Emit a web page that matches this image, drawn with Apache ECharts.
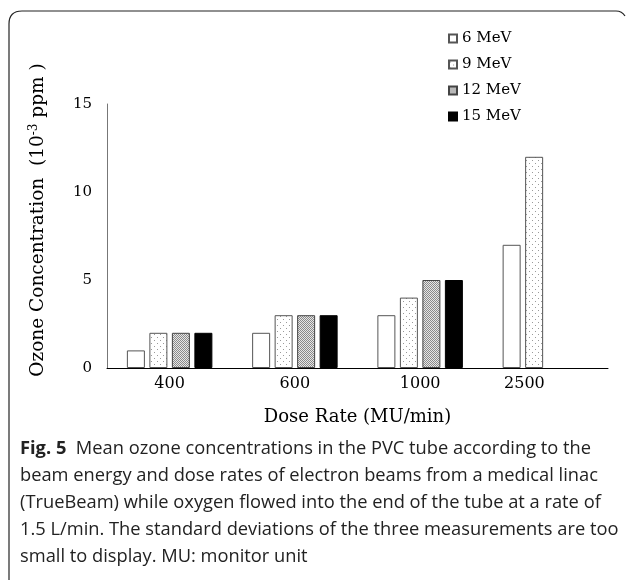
<!DOCTYPE html>
<html>
<head>
<meta charset="utf-8">
<script src="https://cdn.jsdelivr.net/npm/echarts@6/dist/echarts.min.js"></script>
<style>
  html, body { margin: 0; padding: 0; background: #fff; }
  #chart { width: 629px; height: 580px; }
</style>
</head>
<body>
<div id="chart"></div>
<script>
const doseRates = ["400", "600", "1000", "2500"];
const energyNames = ["6 MeV", "9 MeV", "12 MeV", "15 MeV"];
const mev6 = [1, 2, 3, 7];
const mev9 = [2, 3, 4, 12];
const mev12 = [2, 3, 5, null];
const mev15 = [2, 3, 5, null];
const yTicks = [0, 5, 10, 15];

const captionLines = [
  "beam energy and dose rates of electron beams from a medical linac",
  "(TrueBeam) while oxygen flowed into the end of the tube at a rate of",
  "1.5 L/min. The standard deviations of the three measurements are too",
  "small to display. MU: monitor unit",
];

const SERIF = "'DejaVu Serif', serif";
const SANS = "'Open Sans', 'Noto Sans', sans-serif";
const CAPTION_SIZE = 18.3;

function makePattern(size, bg, dots, dotColor) {
  const canvas = document.createElement("canvas");
  canvas.width = size;
  canvas.height = size;
  const ctx = canvas.getContext("2d");
  ctx.fillStyle = bg;
  ctx.fillRect(0, 0, size, size);
  ctx.fillStyle = dotColor;
  dots.forEach(([x, y]) => ctx.fillRect(x, y, 1, 1));
  return { image: canvas, repeat: "repeat" };
}

const styles = [
  { color: "#ffffff", borderColor: "#555555" },
  { color: makePattern(6, "#ffffff", [[1, 1], [4, 4]], "#9a9a9a"), borderColor: "#555555" },
  { color: makePattern(2, "#e6e6e6", [[0, 0], [1, 1]], "#8a8a8a"), borderColor: "#444444" },
  { color: "#000000", borderColor: "#000000" },
];
const seriesData = [mev6, mev9, mev12, mev15];

const frameStyle = { fill: null, stroke: "#222", lineWidth: 1.2 };

const chart = echarts.init(document.getElementById("chart"), null, { renderer: "canvas" });

chart.setOption({
  animation: false,
  backgroundColor: "#ffffff",
  grid: { left: 107, right: 21, top: 104, bottom: 212 },
  legend: {
    orient: "vertical",
    left: 443,
    top: 26,
    itemWidth: 8,
    itemHeight: 8,
    itemGap: 11,
    icon: "rect",
    data: energyNames,
    textStyle: { fontFamily: SERIF, fontSize: 15, color: "#000" },
  },
  xAxis: {
    type: "category",
    data: doseRates,
    name: "Dose Rate (MU/min)",
    nameLocation: "middle",
    nameGap: 40,
    nameTextStyle: { fontFamily: SERIF, fontSize: 18, color: "#000" },
    axisLine: { lineStyle: { color: "#000", width: 1 } },
    axisTick: { show: false },
    axisLabel: {
      interval: 0,
      hideOverlap: false,
      fontFamily: SERIF,
      fontSize: 16,
      color: "#000",
      margin: 8,
      formatter(value) {
        return value === "2500" ? "{shift|" + value + "}" : value;
      },
      rich: {
        shift: { fontFamily: SERIF, fontSize: 16, color: "#000", padding: [0, 42, 0, 0] },
      },
    },
  },
  yAxis: {
    type: "value",
    min: yTicks[0],
    max: yTicks[yTicks.length - 1],
    interval: 5,
    splitLine: { show: false },
    axisLine: { show: true, lineStyle: { color: "#777", width: 1 } },
    axisTick: { show: false },
    axisLabel: { fontFamily: SERIF, fontSize: 15, color: "#000", margin: 15 },
  },
  series: energyNames.map((name, i) => ({
    name,
    type: "bar",
    data: seriesData[i],
    barWidth: 18,
    barGap: "25%",
    itemStyle: {
      color: styles[i].color,
      borderColor: styles[i].borderColor,
      borderWidth: 1,
    },
  })),
  graphic: [
    { type: "line", silent: true, shape: { x1: 9, y1: 585, x2: 9, y2: 24 }, style: frameStyle },
    { type: "bezierCurve", silent: true, shape: { x1: 9, y1: 24, cpx1: 9, cpy1: 11, x2: 22, y2: 11 }, style: frameStyle },
    { type: "line", silent: true, shape: { x1: 22, y1: 11, x2: 616, y2: 11 }, style: frameStyle },
    { type: "bezierCurve", silent: true, shape: { x1: 616, y1: 11, cpx1: 622, cpy1: 11, x2: 625, y2: 16 }, style: frameStyle },
    {
      type: "text",
      x: 38,
      y: 220,
      rotation: Math.PI / 2,
      style: {
        text: "Ozone Concentration  (10{sup|-3} ppm )",
        fontFamily: SERIF,
        fontSize: 18.5,
        fill: "#000",
        align: "center",
        verticalAlign: "middle",
        rich: {
          sup: { fontFamily: SERIF, fontSize: 12, fill: "#000", verticalAlign: "bottom", padding: [0, 0, 9, 0] },
        },
      },
    },
    {
      type: "text",
      left: 20,
      top: 440,
      style: {
        text: "{b|Fig. 5}  Mean ozone concentrations in the PVC tube according to the",
        fontFamily: SANS,
        fontSize: CAPTION_SIZE,
        fill: "#222",
        rich: {
          b: { fontFamily: SANS, fontSize: CAPTION_SIZE, fontWeight: "bold", fill: "#222" },
        },
      },
    },
    ...captionLines.map((line, i) => ({
      type: "text",
      left: 20,
      top: 467 + i * 27,
      style: { text: line, fontFamily: SANS, fontSize: CAPTION_SIZE, fill: "#222" },
    })),
  ],
});
</script>
</body>
</html>
